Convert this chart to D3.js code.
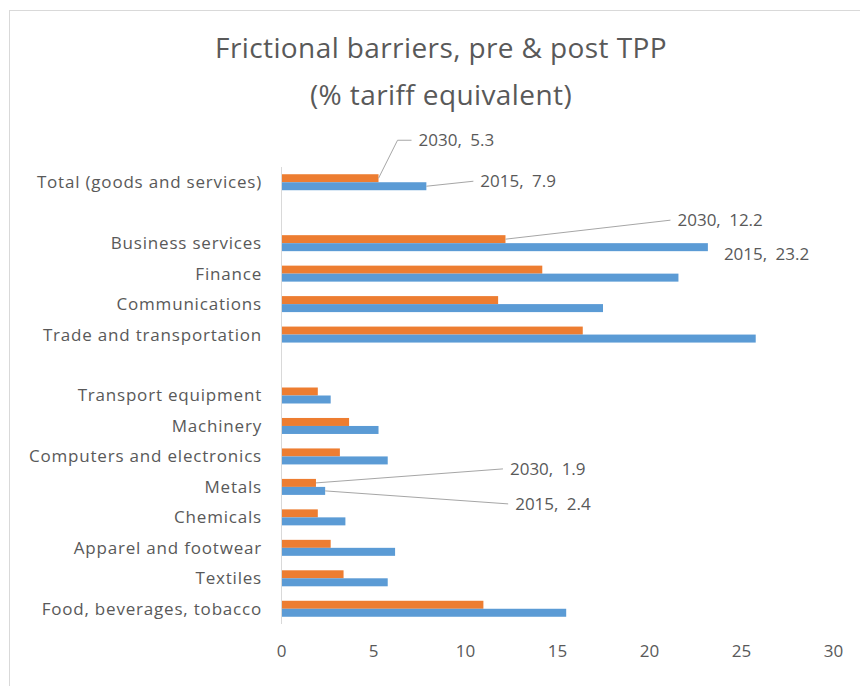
<!DOCTYPE html>
<html>
<head>
<meta charset="utf-8">
<script src="https://cdn.jsdelivr.net/npm/d3@7"></script>
<style>
  body { margin: 0; background: #fff; }
  text { font-family: "Open Sans", sans-serif; fill: #595959; }
</style>
</head>
<body>
<svg></svg>
<script>
// categories top to bottom, null = empty slot between groups
const categories = [
  "Total (goods and services)", null,
  "Business services", "Finance", "Communications", "Trade and transportation", null,
  "Transport equipment", "Machinery", "Computers and electronics", "Metals",
  "Chemicals", "Apparel and footwear", "Textiles", "Food, beverages, tobacco"
];
const series = ["2030", "2015"];
const values2030 = [5.3, null, 12.2, 14.2, 11.8, 16.4, null, 2.0, 3.7, 3.2, 1.9, 2.0, 2.7, 3.4, 11.0];
const values2015 = [7.9, null, 23.2, 21.6, 17.5, 25.8, null, 2.7, 5.3, 5.8, 2.4, 3.5, 6.2, 5.8, 15.5];
const xTicks = [0, 5, 10, 15, 20, 25, 30];

// data labels shown on the chart (category index, series, text offset from bar end)
const labels = [
  { i: 0, s: "2030", dx: 40, dy: -38, elbow: true },
  { i: 0, s: "2015", dx: 54, dy: -5 },
  { i: 2, s: "2030", dx: 172, dy: -19 },
  { i: 2, s: "2015", dx: 16, dy: 7, noLine: true },
  { i: 10, s: "2030", dx: 194, dy: -14 },
  { i: 10, s: "2015", dx: 190, dy: 13 }
];

const colors = { "2030": "#ED7D31", "2015": "#5B9BD5" };
const W = 860, H = 686;

const svg = d3.select("svg").attr("width", W).attr("height", H);

// chart area frame (runs off right / bottom edges)
svg.append("rect")
  .attr("x", 9.5).attr("y", 10.5)
  .attr("width", W + 20).attr("height", H + 20)
  .attr("fill", "#fff").attr("stroke", "#d9d9d9");

svg.append("text")
  .attr("x", 441).attr("y", 58)
  .attr("text-anchor", "middle")
  .style("font-size", "28px")
  .style("letter-spacing", "0.4px")
  .text("Frictional barriers, pre & post TPP");
svg.append("text")
  .attr("x", 441).attr("y", 105)
  .attr("text-anchor", "middle")
  .style("font-size", "28px")
  .style("letter-spacing", "0.4px")
  .text("(% tariff equivalent)");

const x = d3.scaleLinear().domain([0, 30]).range([281, 833]);
const y = d3.scaleBand()
  .domain(d3.range(categories.length))
  .range([167, 624])
  .paddingInner(0.475)
  .paddingOuter(0.2375);
const ySub = d3.scaleBand().domain(series).range([0, y.bandwidth()]);

const rows = categories.map((c, i) => ({
  i, name: c, "2030": values2030[i], "2015": values2015[i]
}));

// bars
const groups = svg.append("g").selectAll("g")
  .data(rows.filter(d => d.name !== null))
  .join("g")
  .attr("transform", d => `translate(0,${y(d.i)})`);

groups.selectAll("rect")
  .data(d => series.map(s => ({ s, v: d[s] })))
  .join("rect")
  .attr("x", x(0))
  .attr("y", d => ySub(d.s))
  .attr("width", d => x(d.v) - x(0))
  .attr("height", ySub.bandwidth())
  .attr("fill", d => colors[d.s]);

// vertical category axis line
svg.append("line")
  .attr("x1", x(0) + 0.5).attr("x2", x(0) + 0.5)
  .attr("y1", 167).attr("y2", 624)
  .attr("stroke", "#d9d9d9");

// category labels
const yAxis = svg.append("g")
  .attr("transform", `translate(${x(0) - 19},0)`)
  .call(d3.axisLeft(y).tickSize(0).tickFormat(i => categories[i] || ""));
yAxis.select(".domain").remove();
yAxis.selectAll("text")
  .attr("x", 0)
  .attr("dy", "0.35em")
  .style("font-size", "17px")
  .style("letter-spacing", "0.8px")
  .style("font-family", "'Open Sans', sans-serif")
  .attr("fill", "#595959");

// value axis
const xAxis = svg.append("g")
  .attr("transform", `translate(0,645)`)
  .call(d3.axisBottom(x).tickValues(xTicks).tickSize(0));
xAxis.select(".domain").remove();
xAxis.selectAll("text")
  .attr("y", 0)
  .attr("dy", "0.71em")
  .style("font-size", "17px")
  .style("font-family", "'Open Sans', sans-serif")
  .attr("fill", "#595959");

// data labels with leader lines
const vals = { "2030": values2030, "2015": values2015 };
labels.forEach(l => {
  const v = vals[l.s][l.i];
  const bx = x(v);
  const by = y(l.i) + ySub(l.s) + ySub.bandwidth() / 2;
  const tx = bx + l.dx, ty = by + l.dy;
  if (!l.noLine) {
    const pts = [[bx, by]];
    if (l.elbow) pts.push([tx - 21, ty]);
    pts.push([tx - 7, ty]);
    svg.append("path")
      .attr("d", d3.line()(pts))
      .attr("fill", "none")
      .attr("stroke", "#a6a6a6");
  }
  svg.append("text")
    .attr("x", tx).attr("y", ty)
    .attr("dy", "0.35em")
    .style("font-size", "17px")
    .style("word-spacing", "4px")
    .text(`${l.s}, ${v.toFixed(1)}`);
});
</script>
</body>
</html>
